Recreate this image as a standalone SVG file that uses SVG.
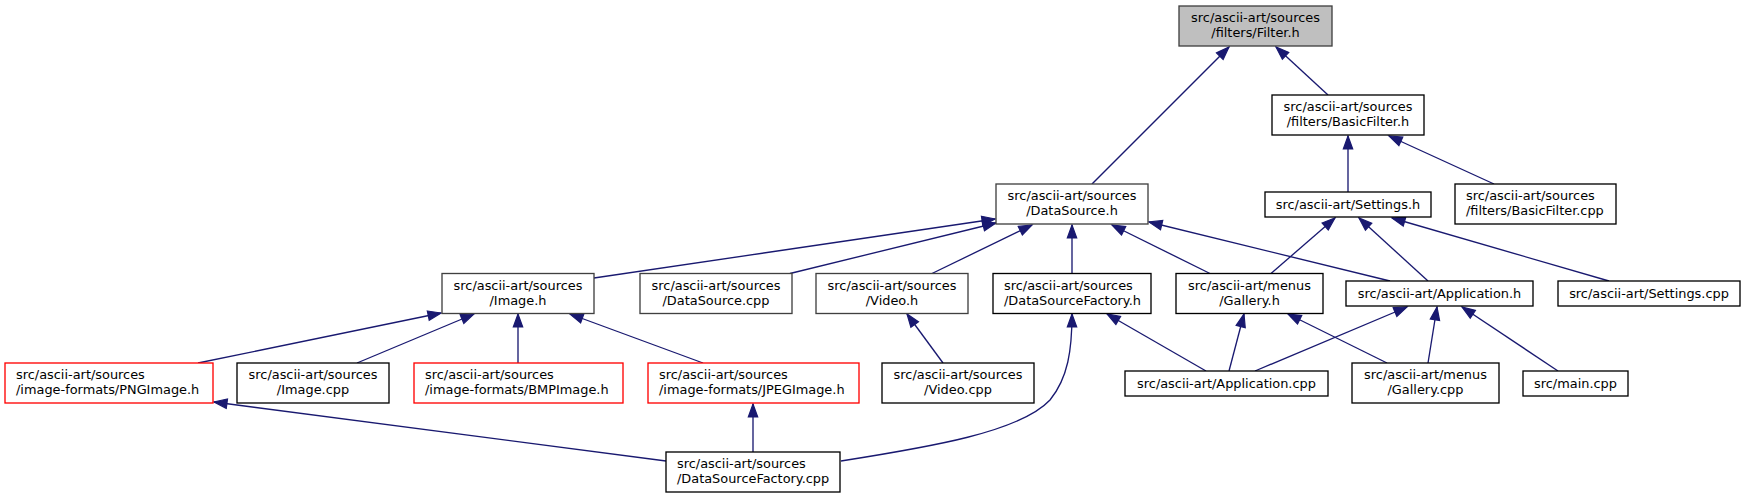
<svg xmlns="http://www.w3.org/2000/svg" width="1746" height="499" viewBox="0 0 1746 499">
<style>
.n rect{fill:#fff;stroke:#000;stroke-width:1.33}
.n.g rect{stroke:#404040}
.n.r rect{stroke:#ff0000}
.n.root rect{fill:#bfbfbf;stroke:#404040}
.n text{font-family:"DejaVu Sans",sans-serif;font-size:12.9px;fill:#000}
.c{text-anchor:middle}
.e path{fill:none;stroke:#191970;stroke-width:1.33;marker-end:url(#ah)}
</style>
<defs>
<marker id="ah" markerUnits="userSpaceOnUse" markerWidth="16" markerHeight="12" refX="13" refY="5" orient="auto" overflow="visible">
<path d="M0,0.3 L13,5 L0,9.7 Z" fill="#191970" stroke="#191970" stroke-width="1.2"/>
</marker>
</defs>
<rect width="1746" height="499" fill="#fff"/>
<g id="edges" class="e">
<path d="M1092,184 L1229,47"/>
<path d="M1328,95 L1276,47"/>
<path d="M1348,192 L1348,136"/>
<path d="M1494,184 L1389,136"/>
<path d="M1271,273.5 L1335,218"/>
<path d="M1428,281 L1359,218"/>
<path d="M1609,281 L1392,218"/>
<path d="M594,278 L995,219"/>
<path d="M790,273.5 L996,223"/>
<path d="M932,273.5 L1032,225"/>
<path d="M1072,273.5 L1072,225"/>
<path d="M1210,273.5 L1112,225"/>
<path d="M1390,281 L1149,222"/>
<path d="M198,363 L441,313"/>
<path d="M357,363 L474,314"/>
<path d="M518,363 L518,314"/>
<path d="M703,363 L570,314"/>
<path d="M666,461 L214,402"/>
<path d="M753,452 L753,404"/>
<path d="M841,461 C930,447 1020,432 1050,400 C1068,378 1072,350 1072,314"/>
<path d="M943,363 L907,314"/>
<path d="M1206,371 L1107,314"/>
<path d="M1229,371 L1244,314"/>
<path d="M1387,363 L1288,314"/>
<path d="M1255,371 L1407,307"/>
<path d="M1428,363 L1437,307"/>
<path d="M1558,371 L1462,307"/>
</g>
<g id="filter_h" class="n root"><rect x="1179" y="6" width="153" height="40"/><text class="c" x="1255.5" y="22">src/ascii-art/sources</text><text class="c" x="1255.5" y="37">/filters/Filter.h</text></g>
<g id="basicfilter_h" class="n"><rect x="1272" y="95" width="152" height="40"/><text class="c" x="1348" y="111">src/ascii-art/sources</text><text class="c" x="1348" y="126">/filters/BasicFilter.h</text></g>
<g id="settings_h" class="n"><rect x="1265" y="192" width="166" height="25"/><text class="c" x="1348" y="208.5">src/ascii-art/Settings.h</text></g>
<g id="basicfilter_cpp" class="n"><rect x="1455" y="184" width="161" height="40"/><text x="1466" y="200">src/ascii-art/sources</text><text x="1466" y="215">/filters/BasicFilter.cpp</text></g>
<g id="datasource_h" class="n g"><rect x="996" y="184" width="152" height="40"/><text class="c" x="1072" y="200">src/ascii-art/sources</text><text class="c" x="1072" y="215">/DataSource.h</text></g>
<g id="image_h" class="n g"><rect x="442" y="273.5" width="152" height="40"/><text class="c" x="518" y="289.5">src/ascii-art/sources</text><text class="c" x="518" y="304.5">/Image.h</text></g>
<g id="datasource_cpp" class="n g"><rect x="640" y="273.5" width="152" height="40"/><text class="c" x="716" y="289.5">src/ascii-art/sources</text><text class="c" x="716" y="304.5">/DataSource.cpp</text></g>
<g id="video_h" class="n g"><rect x="816" y="273.5" width="152" height="40"/><text class="c" x="892" y="289.5">src/ascii-art/sources</text><text class="c" x="892" y="304.5">/Video.h</text></g>
<g id="datasourcefactory_h" class="n"><rect x="993" y="273.5" width="158" height="40"/><text x="1004" y="289.5">src/ascii-art/sources</text><text x="1004" y="304.5">/DataSourceFactory.h</text></g>
<g id="gallery_h" class="n"><rect x="1176" y="273.5" width="147" height="40"/><text class="c" x="1249.5" y="289.5">src/ascii-art/menus</text><text class="c" x="1249.5" y="304.5">/Gallery.h</text></g>
<g id="application_h" class="n"><rect x="1346" y="281" width="187" height="25"/><text class="c" x="1439.5" y="297.5">src/ascii-art/Application.h</text></g>
<g id="settings_cpp" class="n"><rect x="1558" y="281" width="182" height="25"/><text class="c" x="1649" y="297.5">src/ascii-art/Settings.cpp</text></g>
<g id="pngimage_h" class="n r"><rect x="5" y="363" width="208" height="40"/><text x="16" y="379">src/ascii-art/sources</text><text x="16" y="394">/image-formats/PNGImage.h</text></g>
<g id="image_cpp" class="n"><rect x="237" y="363" width="152" height="40"/><text class="c" x="313" y="379">src/ascii-art/sources</text><text class="c" x="313" y="394">/Image.cpp</text></g>
<g id="bmpimage_h" class="n r"><rect x="414" y="363" width="209" height="40"/><text x="425" y="379">src/ascii-art/sources</text><text x="425" y="394">/image-formats/BMPImage.h</text></g>
<g id="jpegimage_h" class="n r"><rect x="648" y="363" width="211" height="40"/><text x="659" y="379">src/ascii-art/sources</text><text x="659" y="394">/image-formats/JPEGImage.h</text></g>
<g id="video_cpp" class="n"><rect x="882" y="363" width="152" height="40"/><text class="c" x="958" y="379">src/ascii-art/sources</text><text class="c" x="958" y="394">/Video.cpp</text></g>
<g id="application_cpp" class="n"><rect x="1125" y="371" width="203" height="25"/><text class="c" x="1226.5" y="387.5">src/ascii-art/Application.cpp</text></g>
<g id="gallery_cpp" class="n"><rect x="1352" y="363" width="147" height="40"/><text class="c" x="1425.5" y="379">src/ascii-art/menus</text><text class="c" x="1425.5" y="394">/Gallery.cpp</text></g>
<g id="main_cpp" class="n"><rect x="1523" y="371" width="105" height="25"/><text class="c" x="1575.5" y="387.5">src/main.cpp</text></g>
<g id="datasourcefactory_cpp" class="n"><rect x="666" y="452" width="174" height="40"/><text x="677" y="468">src/ascii-art/sources</text><text x="677" y="483">/DataSourceFactory.cpp</text></g>
</svg>
